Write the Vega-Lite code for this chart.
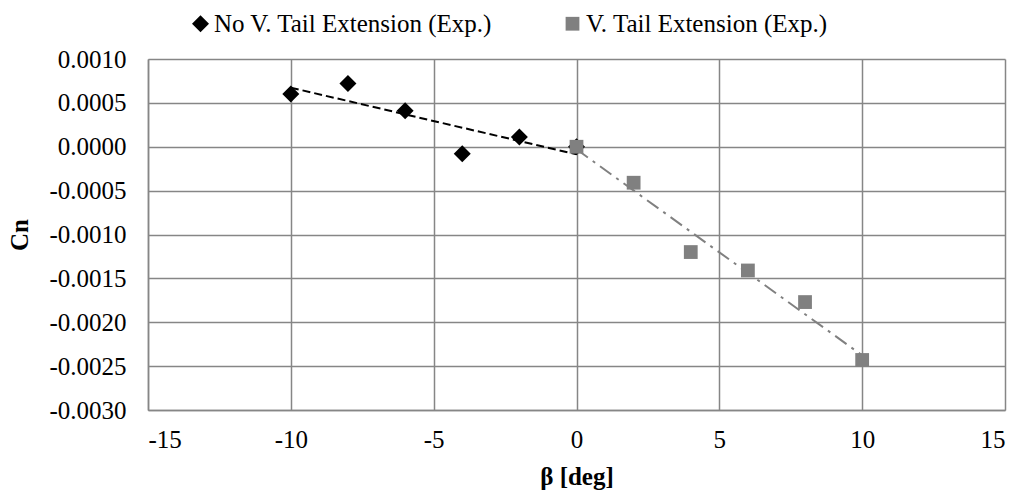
{
  "$schema": "https://vega.github.io/schema/vega-lite/v6.json",
  "width": 857,
  "height": 351,
  "autosize": {"type": "none"},
  "padding": {"left": 148, "top": 59, "right": 19, "bottom": 85},
  "background": "white",
  "config": {
    "font": "Liberation Serif",
    "view": {"stroke": null},
    "axis": {
      "labelFont": "Liberation Serif",
      "titleFont": "Liberation Serif",
      "labelFontSize": 25,
      "titleFontSize": 25,
      "titleFontWeight": "bold",
      "labelColor": "black",
      "titleColor": "black",
      "domainColor": "#868686",
      "domainWidth": 1.5,
      "gridColor": "#868686",
      "gridWidth": 1.5,
      "gridOpacity": 1,
      "ticks": false
    },
    "legend": {
      "labelFont": "Liberation Serif",
      "labelFontSize": 25,
      "labelColor": "black",
      "labelLimit": 500
    }
  },
  "data": {
    "values": [
      {"series": "No V. Tail Extension (Exp.)", "beta": -10, "cn": 0.0006},
      {"series": "No V. Tail Extension (Exp.)", "beta": -8, "cn": 0.00072},
      {"series": "No V. Tail Extension (Exp.)", "beta": -6, "cn": 0.00041},
      {"series": "No V. Tail Extension (Exp.)", "beta": -4, "cn": -0.00008},
      {"series": "No V. Tail Extension (Exp.)", "beta": -2, "cn": 0.00011},
      {"series": "No V. Tail Extension (Exp.)", "beta": 0, "cn": 0.0},
      {"series": "V. Tail Extension (Exp.)", "beta": 0, "cn": 0.0},
      {"series": "V. Tail Extension (Exp.)", "beta": 2, "cn": -0.00041},
      {"series": "V. Tail Extension (Exp.)", "beta": 4, "cn": -0.0012},
      {"series": "V. Tail Extension (Exp.)", "beta": 6, "cn": -0.00141},
      {"series": "V. Tail Extension (Exp.)", "beta": 8, "cn": -0.00177},
      {"series": "V. Tail Extension (Exp.)", "beta": 10, "cn": -0.00243}
    ]
  },
  "layer": [
    {
      "transform": [
        {"filter": "datum.series === 'No V. Tail Extension (Exp.)'"},
        {"regression": "cn", "on": "beta"}
      ],
      "mark": {"type": "line", "color": "black", "strokeDash": [8, 4], "strokeWidth": 2},
      "encoding": {
        "x": {"field": "beta", "type": "quantitative"},
        "y": {"field": "cn", "type": "quantitative"}
      }
    },
    {
      "transform": [
        {"filter": "datum.series === 'V. Tail Extension (Exp.)'"},
        {"regression": "cn", "on": "beta"}
      ],
      "mark": {"type": "line", "color": "#808080", "strokeDash": [14, 6, 3, 6], "strokeWidth": 2},
      "encoding": {
        "x": {"field": "beta", "type": "quantitative"},
        "y": {"field": "cn", "type": "quantitative"}
      }
    },
    {
      "mark": {"type": "point", "filled": true, "opacity": 1, "strokeWidth": 0},
      "encoding": {
        "x": {
          "field": "beta",
          "type": "quantitative",
          "scale": {"domain": [-15, 15], "nice": false, "zero": false},
          "axis": {
            "values": [-15, -10, -5, 0, 5, 10, 15],
            "title": "β [deg]",
            "labelPadding": 17,
            "titlePadding": 12,
            "labelExpr": "replace(format(datum.value, 'd'), '\u2212', '-')"
          }
        },
        "y": {
          "field": "cn",
          "type": "quantitative",
          "scale": {"domain": [-0.003, 0.001], "nice": false, "zero": false},
          "axis": {
            "values": [-0.003, -0.0025, -0.002, -0.0015, -0.001, -0.0005, 0, 0.0005, 0.001],
            "title": "Cn",
            "labelPadding": 22,
            "titlePadding": 16,
            "labelExpr": "replace(format(datum.value, '.4f'), '\u2212', '-')"
          }
        },
        "color": {
          "field": "series",
          "type": "nominal",
          "scale": {"domain": ["No V. Tail Extension (Exp.)", "V. Tail Extension (Exp.)"], "range": ["black", "#808080"]},
          "legend": {
            "title": null,
            "orient": "none",
            "direction": "horizontal",
            "legendX": 40,
            "legendY": -48,
            "labelOffset": 1,
            "columnPadding": 67,
            "padding": 0
          }
        },
        "shape": {
          "field": "series",
          "type": "nominal",
          "scale": {"domain": ["No V. Tail Extension (Exp.)", "V. Tail Extension (Exp.)"], "range": ["diamond", "square"]}
        },
        "size": {
          "field": "series",
          "type": "nominal",
          "scale": {"domain": ["No V. Tail Extension (Exp.)", "V. Tail Extension (Exp.)"], "range": [289, 190]}
        }
      }
    }
  ]
}
